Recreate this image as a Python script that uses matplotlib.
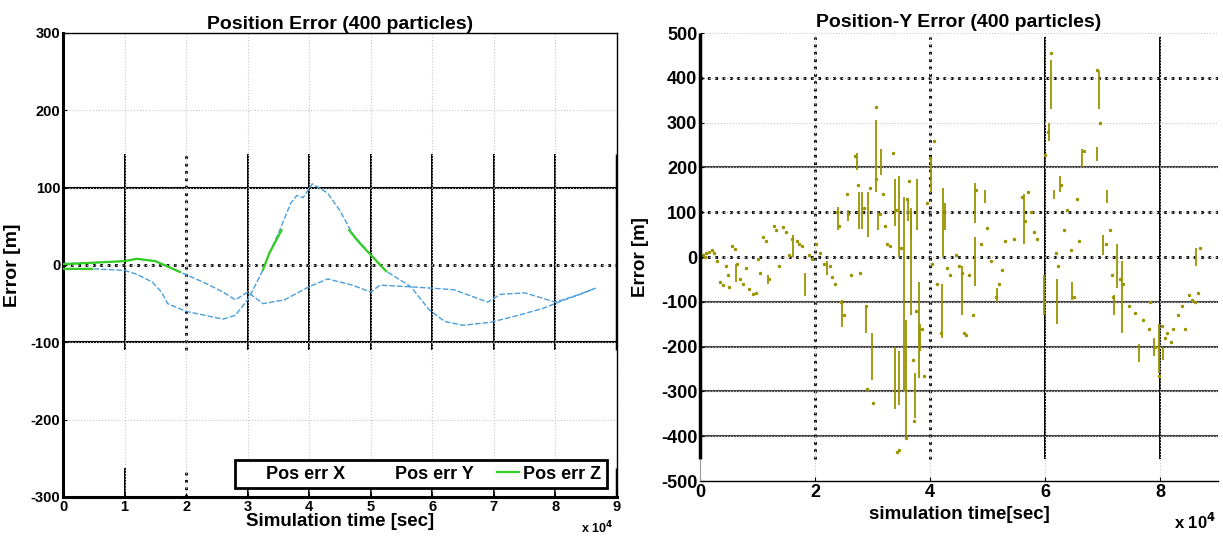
import numpy as np
import matplotlib
matplotlib.use('Agg')
import matplotlib.pyplot as plt

plt.rcParams['font.family'] = ['Liberation Sans', 'DejaVu Sans']
plt.rcParams['font.weight'] = 'bold'
plt.rcParams['axes.labelweight'] = 'bold'
plt.rcParams['axes.titleweight'] = 'bold'
plt.rcParams['axes.unicode_minus'] = False

# ---- left panel: position error x/y/z  (time in units of 1e4 s) ----
x_t = [0, 0.5, 1.0, 1.2, 1.45, 1.6, 1.7, 2.0, 2.3, 2.6, 2.8, 3.0, 3.1, 3.25, 3.35, 3.5, 3.7, 3.8,
       3.9, 4.05, 4.3, 4.5, 4.7, 5.0, 5.25, 5.45, 5.65, 5.95, 6.2, 6.5, 6.95, 7.4, 7.8, 8.15, 8.4, 8.65]
x_err = [-5, -5, -7, -12, -22, -35, -50, -60, -65, -70, -65, -45, -30, -6, 15, 41, 80, 90,
         87, 105, 93, 70, 41, 13, -8, -18, -28, -58, -73, -78, -74, -65, -56, -45, -38, -30]

y_t = [0, 0.5, 1.0, 1.2, 1.5, 1.9, 2.3, 2.6, 2.8, 3.0, 3.25, 3.6, 4.0, 4.3, 4.7, 5.0, 5.15,
       5.6, 6.0, 6.35, 6.9, 7.1, 7.5, 8.0, 8.35, 8.65]
y_err = [2, 3, 5, 8, 5, -9, -23, -35, -45, -35, -50, -45, -28, -18, -26, -35, -26,
         -28, -30, -32, -48, -38, -36, -48, -39, -30]

z_t = [0, 0.47, np.nan, 0, 0.5, 1.0, 1.2, 1.5, 1.9, np.nan, 3.25, 3.35, 3.55, np.nan,
       4.65, 4.8, 5.0, 5.25]
z_err = [-5, -5, np.nan, 1, 3, 5, 8, 5, -9, np.nan, -6, 15, 45, np.nan,
         45, 30, 13, -8]

# ---- right panel: position-Y error ----
bar_t = [0.62, 1.18, 1.62, 1.82, 2.2, 2.4, 2.47, 2.57, 2.72, 2.77, 2.82, 2.89, 2.92, 2.98,
         3.06, 3.1, 3.15, 3.38, 3.39, 3.45, 3.46, 3.55, 3.58, 3.62, 3.66, 3.67, 3.73, 3.77,
         3.8, 3.82, 4.02, 4.2, 4.22, 4.26, 4.56, 4.77, 4.78, 4.95, 5.16, 5.63, 5.97, 6.07,
         6.1, 6.15, 6.2, 6.25, 6.47, 6.63, 6.9, 6.93, 7.0, 7.08, 7.2, 7.25, 7.33, 7.62,
         7.88, 7.97, 8.05, 8.62]
bar_lo = [-55, -60, 0, -87, -40, 60, -156, 80, 195, 62, 62, -170, 45, -275,
          145, 60, 182, 70, -340, 0, -330, -300, -400, 80, 40, -130, -360, 60,
          -270, -210, 145, -180, 0, 60, -130, -65, 75, 120, -100, 30, -130, 260,
          330, 130, -150, 145, -95, 200, 215, 330, 5, 120, -130, -70, -170, -235,
          -220, -260, -230, -20]
bar_hi = [-15, -40, 50, -35, -10, 111, -95, 106, 232, 145, 145, -110, 145, -170,
          305, 100, 240, 175, -200, 180, -210, 135, -140, 130, 110, 100, -260, 175,
          -55, -150, 220, -60, 155, 120, -20, 45, 165, 150, -70, 140, -40, 300,
          440, 150, -50, 180, -55, 240, 245, 415, 50, 150, -85, 30, -10, -195,
          -180, -150, -200, 20]

dot_t = [0.05, 0.1, 0.15, 0.2, 0.25, 0.08, 0.3, 0.35, 0.4, 0.45, 0.48, 0.5, 0.55, 0.6, 0.65,
         0.7, 0.75, 0.8, 0.85, 0.92, 0.98, 1.0, 1.05, 1.1, 1.15, 1.2, 1.28, 1.32, 1.38, 1.45,
         1.5, 1.55, 1.6, 1.68, 1.72, 1.78, 1.9, 1.95, 2.02, 2.08, 2.15,
         2.25, 2.3, 2.35, 2.38, 2.42, 2.45, 2.5, 2.55, 2.58, 2.62, 2.7, 2.75, 2.78, 2.85,
         2.88, 2.9, 2.95, 3.0, 3.05, 3.06, 3.12, 3.18, 3.22, 3.25, 3.3, 3.35, 3.4, 3.42,
         3.45, 3.5, 3.58, 3.6, 3.63, 3.7, 3.72, 3.75, 3.85, 3.9, 3.95, 4.0, 4.03, 4.07,
         4.12, 4.18, 4.3, 4.35,
         4.45, 4.5, 4.55, 4.58, 4.62, 4.68, 4.75, 4.8, 4.88, 4.98, 5.05, 5.15, 5.2, 5.25,
         5.3, 5.45, 5.6, 5.65, 5.7, 5.75, 5.8, 5.85, 6.0, 6.05, 6.1, 6.18, 6.22, 6.28, 6.32,
         6.38, 6.45, 6.5, 6.55, 6.58,
         6.67, 6.9, 6.95, 7.05, 7.12, 7.15, 7.18, 7.3, 7.35, 7.45, 7.55, 7.7, 7.8, 7.82,
         7.9, 7.97, 8.02, 8.08, 8.12, 8.18, 8.22, 8.3, 8.38, 8.42, 8.5, 8.55, 8.6, 8.65, 8.68]
dot_v = [5, 10, 12, 15, 8, 0, -10, -55, -62, -20, -40, -68, 25, 18, -15,
         -50, -60, -25, -72, -82, -80, -5, -35, 45, 35, -50, 70, 60, -20, 68,
         55, 5, 40, 35, 28, 25, 5, -5, 30, 10, -15,
         -20, -45, -60, 100, 70, -100, -130, 140, 95, -40, 225, 160, -35, 110,
         -110, -295, 155, -325, 175, 335, 95, 140, 70, 30, 25, 232, 105, -435,
         -430, 20, -405, 130, 170, -230, -365, -120, -160, -265, 120, 220, -15, 258,
         -60, -170, -25, -40,
         5, -20, -35, -170, -175, -40, -130, 150, 30, 65, -10, -90, -60, -30,
         35, 40, 135, 80, 145, 100, 55, 40, 228, 280, 455, 10, -20, 160, 60,
         105, 15, -90, 130, 35,
         236, 418, 300, 30, 60, -40, -90, -50, -60, -110, -125, -140, -160, -100,
         -200, -265, -155, -180, -170, -190, -160, -130, -110, -160, -85, -95, -100, -80, 20]

fig = plt.figure(figsize=(12.23, 5.37), dpi=100)

# ================= left =================
ax1 = fig.add_axes([63/1223, 1-497/537, 554/1223, 464/537])
ax1.set_xlim(0, 9)
ax1.set_ylim(-300, 300)
ax1.set_xticks(range(10))
ax1.set_yticks([-300, -200, -100, 0, 100, 200, 300])
ax1.grid(True, color='#c8c8c8', linestyle=':', linewidth=0.8)
ax1.tick_params(direction='in', length=3, labelsize=10.5, pad=2)
for s in ax1.spines.values():
    s.set_linewidth(1.0)
ax1.spines['left'].set_linewidth(2.2)
ax1.spines['bottom'].set_linewidth(2.2)

blue = '#4a9fdc'
for xv in [1, 3, 4, 5, 6, 7, 8, 9]:
    lw = 2.5 if xv == 9 else 1.4
    ax1.vlines(xv, -110, 143, color='k', lw=lw, zorder=1)
    ax1.vlines(xv, -300, -262, color='k', lw=lw, zorder=1)
ax1.vlines(2, -110, 143, color='k', lw=2, linestyle=':', zorder=1)
ax1.vlines(2, -300, -262, color='k', lw=2, linestyle=':', zorder=1)
ax1.axhline(100, color='k', lw=1.5, zorder=1)
ax1.axhline(-100, color='k', lw=1.5, zorder=1)
ax1.axhline(0, color='k', lw=2, linestyle=':', zorder=1)

ax1.plot(x_t, x_err, color=blue, lw=1.0, linestyle=(0, (4, 1.5)), label='Pos err X', zorder=3)
ax1.plot(y_t, y_err, color=blue, lw=1.0, linestyle=(0, (4, 1.5)), label='Pos err Y', zorder=3)
ax1.plot(z_t, z_err, color='#33cc22', lw=1.6, label='Pos err Z', zorder=4)

leg = ax1.legend(loc='lower right', ncol=3, fancybox=False, framealpha=1, edgecolor='k',
                 prop={'size': 13, 'weight': 'bold'}, handlelength=1.2, handletextpad=0.25,
                 columnspacing=1.3, borderpad=0.3, borderaxespad=0,
                 bbox_to_anchor=(0.982, 0.019))
leg.get_frame().set_linewidth(2)
leg.get_lines()[0].set_visible(False)
leg.get_lines()[1].set_visible(False)

ax1.set_title('Position Error (400 particles)', fontsize=14, pad=3)
ax1.set_xlabel('Simulation time [sec]', fontsize=13.5)
ax1.xaxis.set_label_coords(0.5, -0.035)
ax1.set_ylabel('Error [m]', fontsize=14)
ax1.yaxis.set_label_coords(-0.076, 0.5)
fig.text(581/1223, 1-533/537, 'x 10$^4$', fontsize=9)

# ================= right =================
ax2 = fig.add_axes([700/1223, 1-481/537, 518/1223, 448/537])
ax2.set_xlim(0, 9)
ax2.set_ylim(-500, 500)
ax2.set_xticks([0, 2, 4, 6, 8])
ax2.set_yticks(range(-500, 501, 100))
ax2.grid(True, color='#c8c8c8', linestyle=':', linewidth=0.8)
ax2.tick_params(direction='in', length=3, labelsize=13, pad=2)
ax2.spines['top'].set_visible(False)
ax2.spines['right'].set_visible(False)
ax2.spines['left'].set_visible(False)
ax2.spines['bottom'].set_linewidth(1.0)
ax2.vlines(0, -450, 500, color='k', lw=2.5, clip_on=False, zorder=5)
ax2.vlines(0, -500, -450, color='#999999', lw=0.8, clip_on=False, zorder=5)

for yv in [400, 100, 0]:
    ax2.axhline(yv, color='k', lw=2, linestyle=':', zorder=1)
for yv in [200, -100, -200, -300, -400]:
    ax2.axhline(yv, color='#444444', lw=1.5, zorder=1)
for xv in [2, 4]:
    ax2.vlines(xv, -450, 490, color='k', lw=2, linestyle=':', zorder=1)
for xv in [6, 8]:
    ax2.vlines(xv, -450, 490, color='k', lw=1.4, zorder=1)

olive = '#9a9400'
ax2.vlines(bar_t, bar_lo, bar_hi, color=olive, lw=1.3, zorder=3)
ax2.plot(dot_t, dot_v, linestyle='none', marker='.', ms=3, color=olive, zorder=3)

ax2.set_title('Position-Y Error (400 particles)', fontsize=14, pad=4)
ax2.set_xlabel('simulation time[sec]', fontsize=13.5)
ax2.xaxis.set_label_coords(0.5, -0.055)
ax2.set_ylabel('Error [m]', fontsize=13.5)
ax2.yaxis.set_label_coords(-0.098, 0.5)
fig.text(1174/1223, 1-529/537, 'x 10$^4$', fontsize=12)

fig.savefig('out.png', dpi=100)
